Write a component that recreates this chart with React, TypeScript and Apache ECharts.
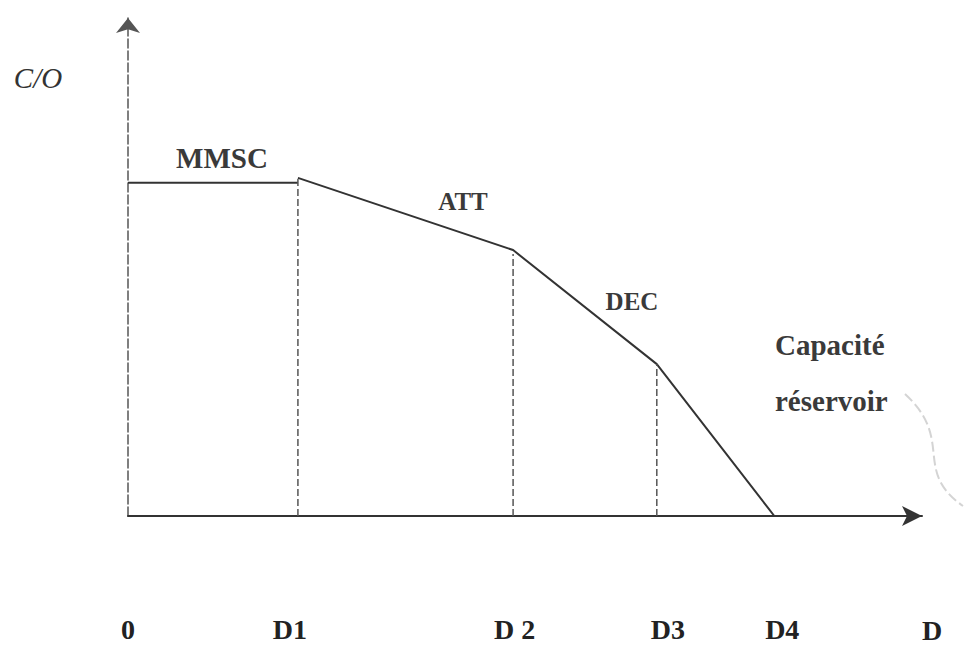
import React, { useEffect, useRef } from "react";
import * as echarts from "echarts";

// Breakpoints on the D axis
const breakX = [21.4, 48.5, 66.6, 81.4];
// C/O values of the descending curve at each breakpoint
const curveY = [67.9, 53.4, 30.5, 0];
// Plateau (MMSC) level from 0 to D1
const plateauX = [0, 21.4];
const plateauY = 66.9;
// Dashed drop lines (x, top)
const dropX = [21.4, 48.5, 66.6];
const dropTop = [67.9, 52.6, 30.5];
// Tick labels under the axis
const tickValues = [0, 20.4, 48.7, 68.0, 82.4];
const tickLabels = ["0", "D1", "D 2", "D3", "D4"];
const xAxisName = "D";
const yAxisName = "C/O";
const segmentLabels = ["MMSC", "ATT", "DEC"];
const capacityLabel = ["Capacité", "réservoir"];

const SERIF = '"Liberation Serif", "Times New Roman", serif';
const INK = "#333333";

export default function App() {
  const ref = useRef<HTMLDivElement>(null);
  useEffect(() => {
    if (!ref.current) return;
    const chart = echarts.init(ref.current, undefined, { renderer: "svg" });
    const dropSeries = dropX.map((x, i) => ({
      type: "line",
      data: [
        [x, 0],
        [x, dropTop[i]],
      ],
      symbol: "none",
      silent: true,
      lineStyle: { color: "#555", width: 1.5, type: [7, 3] },
    }));
    chart.setOption({
      animation: false,
      backgroundColor: "#ffffff",
      grid: {
        left: 128,
        right: 43,
        top: 18,
        bottom: 130,
        containLabel: false,
        outerBoundsMode: "none",
      },
      xAxis: {
        type: "value",
        min: 0,
        max: 100,
        splitLine: { show: false },
        axisTick: { show: false },
        axisLine: {
          show: true,
          symbol: ["none", "arrow"],
          symbolSize: [15, 20],
          lineStyle: { color: INK, width: 2 },
        },
        axisLabel: {
          show: true,
          customValues: tickValues,
          margin: 99,
          fontFamily: SERIF,
          fontWeight: "bold",
          fontSize: 28,
          color: "#222",
          formatter: (v: number) => {
            const i = tickValues.findIndex((t) => Math.abs(t - v) < 1e-6);
            return i >= 0 ? tickLabels[i] : "";
          },
        },
        name: xAxisName,
        nameLocation: "end",
        nameGap: 0,
        nameTextStyle: {
          fontFamily: SERIF,
          fontWeight: "bold",
          fontSize: 28,
          color: "#222",
          align: "left",
          verticalAlign: "top",
          lineHeight: 228,
        },
      },
      yAxis: {
        type: "value",
        min: 0,
        max: 100,
        splitLine: { show: false },
        axisTick: { show: false },
        axisLabel: { show: false },
        axisLine: {
          show: true,
          symbol: ["none", "arrow"],
          symbolSize: [18, 15],
          lineStyle: { color: "#555", width: 1.5, type: [9, 3] },
        },
      },
      series: [
        {
          type: "line",
          data: [
            [plateauX[0], plateauY],
            [plateauX[1], plateauY],
          ],
          symbol: "none",
          silent: true,
          lineStyle: { color: INK, width: 2 },
        },
        {
          type: "line",
          data: breakX.map((x, i) => [x, curveY[i]]),
          symbol: "none",
          silent: true,
          lineStyle: { color: INK, width: 2 },
        },
        ...dropSeries,
      ],
      graphic: [
        {
          type: "text",
          x: 38,
          y: 78,
          style: {
            text: yAxisName,
            fontFamily: SERIF,
            fontStyle: "italic",
            fontSize: 29,
            fill: INK,
            align: "center",
            verticalAlign: "middle",
          },
        },
        {
          type: "text",
          x: 222,
          y: 158,
          style: {
            text: segmentLabels[0],
            fontFamily: SERIF,
            fontWeight: "bold",
            fontSize: 29,
            fill: "#3a3a3a",
            align: "center",
            verticalAlign: "middle",
          },
        },
        {
          type: "text",
          x: 463,
          y: 201,
          style: {
            text: segmentLabels[1],
            fontFamily: SERIF,
            fontWeight: "bold",
            fontSize: 25,
            fill: "#3a3a3a",
            align: "center",
            verticalAlign: "middle",
          },
        },
        {
          type: "text",
          x: 632,
          y: 301,
          style: {
            text: segmentLabels[2],
            fontFamily: SERIF,
            fontWeight: "bold",
            fontSize: 25,
            fill: "#3a3a3a",
            align: "center",
            verticalAlign: "middle",
          },
        },
        {
          type: "text",
          x: 775,
          y: 345,
          style: {
            text: capacityLabel[0],
            fontFamily: SERIF,
            fontWeight: "bold",
            fontSize: 29,
            fill: "#3a3a3a",
            align: "left",
            verticalAlign: "middle",
          },
        },
        {
          type: "text",
          x: 775,
          y: 401,
          style: {
            text: capacityLabel[1],
            fontFamily: SERIF,
            fontWeight: "bold",
            fontSize: 29,
            fill: "#3a3a3a",
            align: "left",
            verticalAlign: "middle",
          },
        },
        {
          type: "bezierCurve",
          silent: true,
          shape: {
            x1: 905,
            y1: 394,
            cpx1: 955,
            cpy1: 440,
            cpx2: 912,
            cpy2: 470,
            x2: 963,
            y2: 506,
          },
          style: { stroke: "#d4d4d4", lineWidth: 2, fill: "none", lineDash: [10, 4] },
        },
      ],
    });
    return () => chart.dispose();
  }, []);
  return (
    <div
      ref={ref}
      style={{
        position: "fixed",
        left: 0,
        top: 0,
        width: 965,
        height: 646,
        background: "#fff",
      }}
    />
  );
}
